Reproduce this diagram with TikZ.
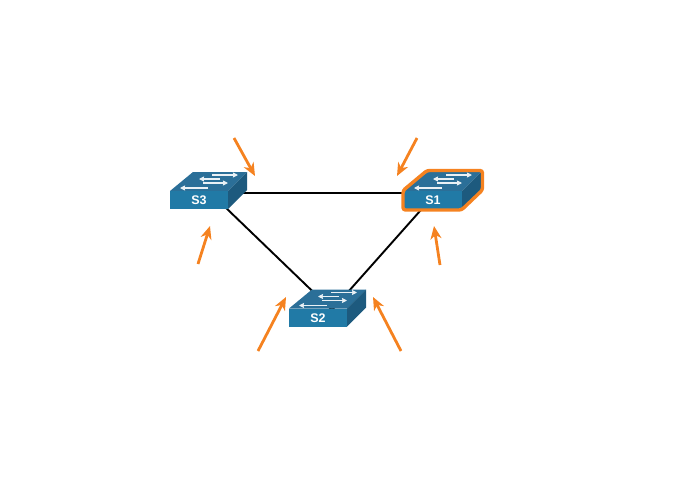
\documentclass[tikz,border=0pt]{standalone}
\usepackage{fontspec}
\setsansfont{Liberation Sans}
\usetikzlibrary{arrows.meta}
\definecolor{swfront}{HTML}{217AA6}
\definecolor{swtop}{HTML}{2B6F98}
\definecolor{swside}{HTML}{1D5A7E}
\definecolor{marker}{HTML}{F58220}
\tikzstyle{link} = [draw=black, line width=1.9pt]
\tikzstyle{pointer} = [draw=marker, line width=2.8pt, -{Stealth[length=13pt, width=11pt, inset=4pt]}]
\tikzstyle{flow} = [draw=white!90!swtop, line width=1.6pt, -{Stealth[length=5pt, width=5pt, inset=0.5pt]}]
\tikzstyle{swlabel} = [text=white, font=\sffamily\bfseries\fontsize{12.5}{13}\selectfont, inner sep=1pt]
\tikzstyle{active} = [draw=marker, line width=3.4pt, rounded corners=2.5pt, line join=round]

\newcommand{\switch}[3]{
\begin{scope}[shift={(#1)}]
	\fill [swtop] (0,0) -- (23,-19) -- (77,-19) -- (58,0) -- cycle;
	\fill [swside] (58,0) -- (77,-19) -- (77,-1) -- (58,18) -- cycle;
	\fill [swfront] (0,0) rectangle (58,18);
	\draw [flow] (50,-12) -- (29,-12);
	\draw [flow] (42,-16) -- (68,-16);
	\draw [flow] (33,-8) -- (58,-8);
	\draw [flow] (38,-3) -- (10,-3);
	\node [swlabel] (#2) at (29,9.5) {#3};
\end{scope}
}

\begin{document}
\begin{tikzpicture}[x=1pt, y=-1pt]
\useasboundingbox (0,0) rectangle (680,490);

\coordinate (hub3) at (210.5,193);
\coordinate (hub1) at (436,193);
\coordinate (hub2) at (332,310);
\draw [link] (hub3) -- (hub1);
\draw [link] (hub3) -- (hub2);
\draw [link] (hub1) -- (hub2);

\switch{170,191}{S3}{S3}
\switch{404,191}{S1}{S1}
\switch{289,308.5}{S2}{S2}

\draw [active] (403,190.5) -- (427,170.5) -- (482.5,170.5) -- (482.5,190) -- (461.5,210) -- (403,210) -- cycle;

% markers
\coordinate (a1) at (234,138); \coordinate (b1) at (255,176);
\coordinate (a2) at (417,138); \coordinate (b2) at (397,176);
\coordinate (a3) at (198,264); \coordinate (b3) at (210,226);
\coordinate (a4) at (440,265); \coordinate (b4) at (434,226);
\coordinate (a5) at (258,351); \coordinate (b5) at (286,297);
\coordinate (a6) at (401,351); \coordinate (b6) at (373,297);
\foreach \i in {1,...,6}
	\draw [pointer] (a\i) -- (b\i);
\end{tikzpicture}
\end{document}
